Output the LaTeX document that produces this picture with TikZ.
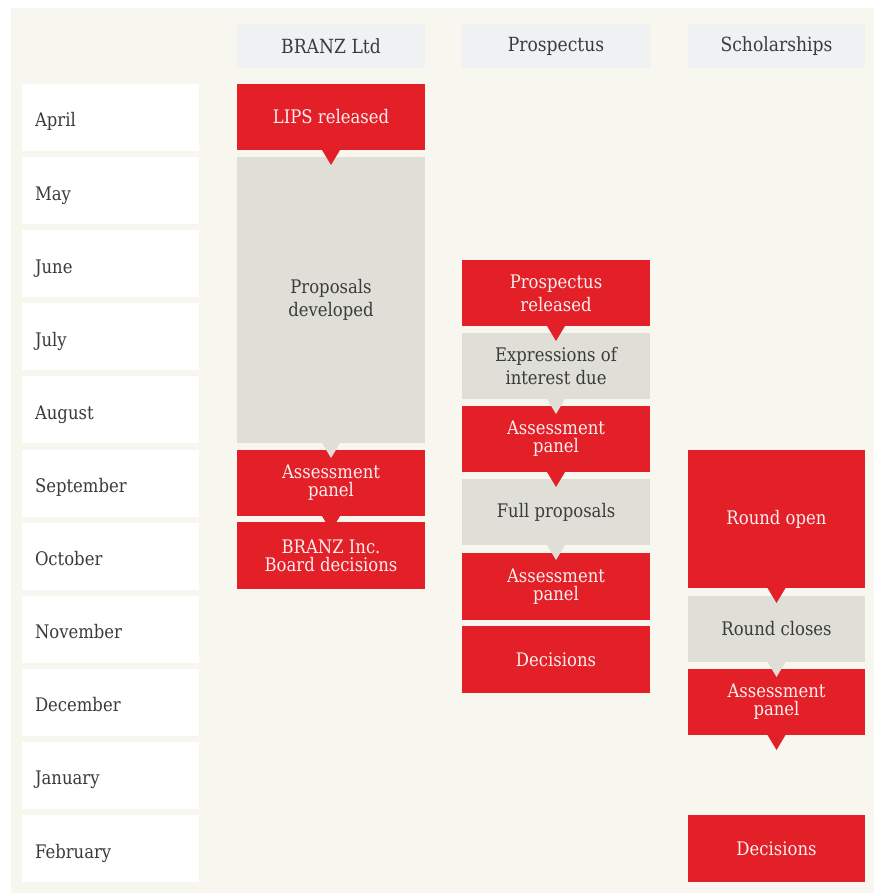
\documentclass[tikz,border=0pt]{standalone}
\usepackage{fontspec}
\setmainfont[FakeStretch=0.88]{DejaVu Serif}
\usepackage{xcolor}
\definecolor{bgc}{HTML}{F7F6EF}
\definecolor{redc}{HTML}{E31F28}
\definecolor{greyc}{HTML}{DFDFD8}
\definecolor{headc}{HTML}{F0F1F3}
\definecolor{textc}{HTML}{3B3B3B}
\definecolor{redtext}{HTML}{FDEEEE}
% pointer under a box
\newcommand{\boxtip}[2]{\fill[#2] (#1.south) ++(-9,0) -- ++(18,0) -- ++(-9,15) -- cycle;}

\begin{document}
\begin{tikzpicture}[x=1pt,y=-1pt,
  every node/.style={inner sep=0pt,outer sep=0pt,anchor=north west,
    font=\fontsize{18.7}{23}\selectfont},
  month/.style={fill=white,text=textc,minimum height=67pt,text width=151pt,
    inner xsep=13pt,align=left,text height=19pt,text depth=0pt},
  head/.style={fill=headc,text=textc,minimum height=44pt,align=center,
    font=\fontsize{19.5}{23}\selectfont},
  redbox/.style={fill=redc,text=redtext,minimum height=66pt,align=center},
  greybox/.style={fill=greyc,text=textc,minimum height=66pt,align=center},
  colA/.style={minimum width=188pt},
  colC/.style={minimum width=177pt},
  tight/.style={font=\fontsize{18.7}{18}\selectfont}]
\useasboundingbox (0,0) rectangle (874,893);
\fill[white] (0,0) rectangle (874,893);
\fill[bgc] (11,8) rectangle (874,893);

% headers
\node[head,colA] (hbranz) at (237,24) {BRANZ Ltd};
\node[head,colA] (hprosp) at (462,24) {Prospectus};
\node[head,colC] (hschol) at (688,24) {Scholarships};

% months
\foreach \m [count=\i from 0] in {April,May,June,July,August,September,October,November,December,January,February}
  \node[month] (\m) at (22,84+73.1*\i) {\m};

% BRANZ Ltd
\node[redbox,colA] (lips) at (237,84) {LIPS released};
\node[greybox,colA,minimum height=286pt] (devel) at (237,157) {Proposals\\developed};
\node[redbox,colA,tight] (assessA) at (237,450) {Assessment\\panel};
\node[redbox,colA,tight,minimum height=67pt] (board) at (237,522) {BRANZ Inc.\\Board decisions};

% Prospectus
\node[redbox,colA] (prosrel) at (462,260) {Prospectus\\released};
\node[greybox,colA] (eoi) at (462,333) {Expressions of\\interest due};
\node[redbox,colA,tight] (assessB) at (462,406) {Assessment\\panel};
\node[greybox,colA] (full) at (462,479) {Full proposals};
\node[redbox,colA,tight,minimum height=67pt] (assessC) at (462,553) {Assessment\\panel};
\node[redbox,colA,minimum height=67pt] (decB) at (462,626) {Decisions};

% Scholarships
\node[redbox,colC,minimum height=138pt] (open) at (688,450) {Round open};
\node[greybox,colC] (closes) at (688,596) {Round closes};
\node[redbox,colC,tight] (assessD) at (688,669) {Assessment\\panel};
\node[redbox,colC,minimum height=67pt] (decC) at (688,815) {Decisions};

% pointers
\boxtip{lips}{redc}
\boxtip{devel}{greyc}
\boxtip{assessA}{redc}
\boxtip{prosrel}{redc}
\boxtip{eoi}{greyc}
\boxtip{assessB}{redc}
\boxtip{full}{greyc}
\boxtip{open}{redc}
\boxtip{closes}{greyc}
\boxtip{assessD}{redc}
\end{tikzpicture}
\end{document}
